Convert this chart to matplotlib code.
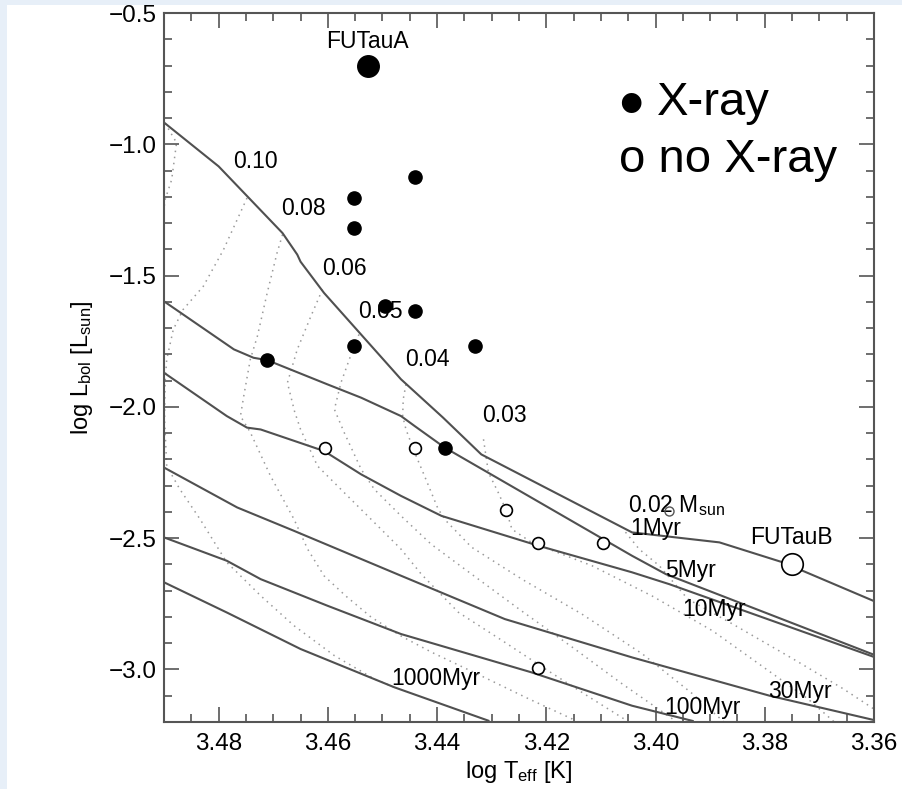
import matplotlib
matplotlib.use("Agg")
import matplotlib.pyplot as plt
from matplotlib.patches import Rectangle

plt.rcParams["font.family"] = ["Liberation Sans", "DejaVu Sans"]
plt.rcParams["mathtext.fontset"] = "custom"
plt.rcParams["mathtext.rm"] = "Liberation Sans"
plt.rcParams["mathtext.it"] = "Liberation Sans"

# ── Isochrones (solid) ─────────────────────────────────────
iso_1myr_x = [3.490, 3.4800, 3.4683, 3.4656, 3.4650, 3.4607, 3.4466, 3.4389, 3.4319, 3.4043, 3.3883, 3.3767, 3.3595]
iso_1myr_y = [-0.917, -1.084, -1.338, -1.420, -1.447, -1.566, -1.895, -2.041, -2.181, -2.478, -2.516, -2.592, -2.744]
iso_5myr_x = [3.490, 3.4772, 3.4736, 3.4711, 3.4601, 3.4539, 3.4466, 3.4441, 3.4386, 3.4043, 3.3981, 3.3595]
iso_5myr_y = [-1.598, -1.781, -1.813, -1.822, -1.914, -1.965, -2.035, -2.073, -2.155, -2.567, -2.637, -2.948]
iso_10myr_x = [3.490, 3.4785, 3.4748, 3.4723, 3.4607, 3.4539, 3.4466, 3.4392, 3.4214, 3.4043, 3.3975, 3.3595]
iso_10myr_y = [-1.870, -2.035, -2.079, -2.086, -2.168, -2.257, -2.339, -2.415, -2.529, -2.630, -2.675, -2.956]
iso_30myr_x = [3.490, 3.4766, 3.4662, 3.4466, 3.4276, 3.4043, 3.3791, 3.3595]
iso_30myr_y = [-2.231, -2.383, -2.472, -2.643, -2.808, -2.954, -3.100, -3.195]
iso_100myr_x = [3.490, 3.4785, 3.4723, 3.4601, 3.4466, 3.4227, 3.4043, 3.3932]
iso_100myr_y = [-2.497, -2.586, -2.656, -2.757, -2.865, -3.011, -3.138, -3.196]
iso_1000myr_x = [3.490, 3.4785, 3.4650, 3.4478, 3.4306]
iso_1000myr_y = [-2.668, -2.783, -2.922, -3.068, -3.195]

# ── Mass tracks (dotted) ───────────────────────────────────
trk_top_x = [3.4898, 3.4877, 3.4886, 3.4898, 3.4907]
trk_top_y = [-0.920, -0.994, -1.135, -1.211, -1.363]
trk_010_x = [3.4748, 3.4791, 3.4828, 3.4865, 3.4883, 3.4895, 3.4898, 3.4899, 3.4895, 3.4871,
             3.4834, 3.4785, 3.4760, 3.4723, 3.4662, 3.4588, 3.4515, 3.4480]
trk_010_y = [-1.2045, -1.4011, -1.5406, -1.6292, -1.7053, -1.8193, -1.9067, -2.0474, -2.2250, -2.3135,
             -2.4275, -2.5922, -2.6431, -2.7191, -2.8332, -2.9473, -3.0359, -3.0663]
trk_008_x = [3.4683, 3.4693, 3.4711, 3.4729, 3.4742, 3.4754, 3.4760, 3.4742, 3.4705, 3.4662,
             3.4637, 3.4607, 3.4567, 3.4521, 3.4466, 3.4411, 3.4319, 3.4232, 3.4153, 3.4135]
trk_008_y = [-1.3440, -1.4136, -1.5657, -1.7307, -1.8193, -1.9589, -2.0349, -2.0968, -2.2630, -2.4276,
             -2.5417, -2.6432, -2.7204, -2.8002, -2.8725, -2.9333, -3.0245, -3.1120, -3.1880, -3.226]
trk_006_x = [3.4610, 3.4631, 3.4656, 3.4674, 3.4661, 3.4650, 3.4619, 3.4564, 3.4515, 3.4466,
             3.4429, 3.4361, 3.4276, 3.4202, 3.4116, 3.4052, 3.4024]
trk_006_y = [-1.5532, -1.6547, -1.7813, -1.9079, -2.0170, -2.0854, -2.2249, -2.3390, -2.4401, -2.5417,
             -2.6367, -2.7823, -2.8964, -2.9979, -3.1120, -3.1956, -3.234]
trk_005_x = [3.4543, 3.4552, 3.4576, 3.4588, 3.4570, 3.4539, 3.4515, 3.4466, 3.4411, 3.4337,
             3.4245, 3.4153, 3.4061, 3.3969, 3.3951]
trk_005_y = [-1.7242, -1.7687, -1.9079, -2.0094, -2.0980, -2.2375, -2.3136, -2.4151, -2.5227, -2.6367,
             -2.7774, -2.9143, -3.0549, -3.1880, -3.226]
trk_004_x = [3.4457, 3.4462, 3.4463, 3.4457, 3.4441, 3.4423, 3.4398, 3.4383, 3.4337, 3.4245,
             3.4135, 3.4024, 3.3932, 3.3877, 3.3859]
trk_004_y = [-1.9143, -1.9713, -2.0349, -2.0854, -2.1740, -2.2630, -2.3896, -2.4352, -2.5341, -2.6557,
             -2.7888, -2.9409, -3.0930, -3.1956, -3.234]
trk_003_x = [3.4315, 3.4306, 3.4288, 3.4273, 3.4263, 3.4227, 3.4116, 3.4006, 3.3895, 3.3803,
             3.3721, 3.3675, 3.3656]
trk_003_y = [-2.1235, -2.2501, -2.3262, -2.3961, -2.4657, -2.5162, -2.6052, -2.7204, -2.8535, -2.9903,
             -3.1120, -3.1956, -3.234]
trk_002_x = [3.4055, 3.4030, 3.3993, 3.3941, 3.3859, 3.3748, 3.3656, 3.3595, 3.3580]
trk_002_y = [-2.4770, -2.5417, -2.6052, -2.7317, -2.8268, -2.9599, -3.0740, -3.1576, -3.170]

# ── Objects ────────────────────────────────────────────────
xray_teff = [3.4441, 3.4552, 3.4552, 3.4495, 3.4441, 3.4552, 3.4711, 3.4331, 3.4386]
xray_lbol = [-1.125, -1.205, -1.319, -1.617, -1.636, -1.769, -1.822, -1.769, -2.155]
noxray_teff = [3.4606, 3.4441, 3.4273, 3.4216, 3.4097, 3.4216]
noxray_lbol = [-2.155, -2.155, -2.394, -2.520, -2.520, -2.996]
faint_teff = [3.3976]
faint_lbol = [-2.396]
futaua_teff, futaua_lbol = 3.4527, -0.700
futaub_teff, futaub_lbol = 3.3751, -2.599

mass_labels = ["0.10", "0.08", "0.06", "0.05", "0.04", "0.03"]
mass_label_x = [3.4733, 3.4644, 3.4570, 3.4503, 3.4417, 3.4276]
mass_label_y = [-1.0665, -1.2426, -1.4745, -1.6357, -1.8193, -2.0322]
age_labels = ["1Myr", "5Myr", "10Myr", "30Myr", "100Myr", "1000Myr"]
age_label_x = [3.4046, 3.3982, 3.3951, 3.3794, 3.3984, 3.4484]
age_label_y = [-2.4650, -2.6242, -2.7698, -3.0842, -3.1437, -3.0359]

LINE = "#505050"
DOT = "#9a9a9a"

fig = plt.figure(figsize=(9.02, 7.89), dpi=100)
fig.patch.set_facecolor("white")
fig.patches.append(Rectangle((0, 0), 7 / 902, 1, transform=fig.transFigure,
                             facecolor="#e7eff8", edgecolor="none", zorder=0))
fig.patches.append(Rectangle((0, 1 - 5 / 789), 1, 5 / 789, transform=fig.transFigure,
                             facecolor="#e7eff8", edgecolor="none", zorder=0))

ax = fig.add_axes([164 / 902, 67 / 789, 710 / 902, 709 / 789])

tracks = [(trk_top_x, trk_top_y), (trk_010_x, trk_010_y), (trk_008_x, trk_008_y),
          (trk_006_x, trk_006_y), (trk_005_x, trk_005_y), (trk_004_x, trk_004_y),
          (trk_003_x, trk_003_y), (trk_002_x, trk_002_y)]
for tx, ty in tracks:
    ax.plot(tx, ty, color=DOT, lw=1.1, ls=(0, (1, 3)), zorder=1)

isochrones = [(iso_1myr_x, iso_1myr_y), (iso_5myr_x, iso_5myr_y), (iso_10myr_x, iso_10myr_y),
              (iso_30myr_x, iso_30myr_y), (iso_100myr_x, iso_100myr_y),
              (iso_1000myr_x, iso_1000myr_y)]
for ix, iy in isochrones:
    ax.plot(ix, iy, color=LINE, lw=1.5, zorder=2)

ax.plot(xray_teff, xray_lbol, "o", color="black", ms=9.5, zorder=4)
ax.plot(noxray_teff, noxray_lbol, "o", mfc="white", mec="black", mew=1.2, ms=8.5, zorder=4)
ax.plot(faint_teff, faint_lbol, "o", mfc="none", mec="#555555", mew=1.0, ms=6.5, zorder=4)
ax.plot([futaua_teff], [futaua_lbol], "o", color="black", ms=15.5, zorder=4)
ax.plot([futaub_teff], [futaub_lbol], "o", mfc="white", mec="black", mew=1.2, ms=15.5, zorder=4)

FS = 16.5
ax.text(futaua_teff, -0.610, "FUTauA", fontsize=FS, ha="center", va="center", zorder=5)
ax.text(futaub_teff, -2.497, "FUTauB", fontsize=FS, ha="center", va="center", zorder=5)
for lab, lx, ly in zip(mass_labels, mass_label_x, mass_label_y):
    ax.text(lx, ly, lab, fontsize=FS, ha="center", va="center", zorder=3)
ax.text(3.4050, -2.3760, r"0.02 M$_{\rm sun}$", fontsize=FS, ha="left", va="center", zorder=3)
for lab, lx, ly in zip(age_labels, age_label_x, age_label_y):
    ax.text(lx, ly, lab, fontsize=FS, ha="left", va="center", zorder=3)

# legend written as plain text, as in the original
ax.text(3.4046, -0.9330, "\u2022", fontsize=52, ha="center", va="baseline")
ax.text(3.3997, -0.8878, "X-ray", fontsize=34, ha="left", va="baseline")
ax.text(3.4067, -1.1045, "o no X-ray", fontsize=34, ha="left", va="baseline")

ax.set_xlim(3.49, 3.36)
ax.set_ylim(-3.2, -0.5)
ax.set_xticks([3.48, 3.46, 3.44, 3.42, 3.40, 3.38, 3.36])
ax.set_xticklabels(["3.48", "3.46", "3.44", "3.42", "3.40", "3.38", "3.36"])
ax.set_yticks([-3.0, -2.5, -2.0, -1.5, -1.0, -0.5])
ax.set_yticklabels(["\u22123.0", "\u22122.5", "\u22122.0", "\u22121.5", "\u22121.0", "\u22120.5"])
ax.set_xticks([3.36 + 0.005 * i for i in range(27)], minor=True)
ax.set_yticks([-3.2 + 0.1 * i for i in range(28)], minor=True)
ax.tick_params(which="both", direction="in", top=True, right=True, color="#555555",
               labelsize=17.5, width=1.2)
ax.tick_params(which="major", length=11)
ax.tick_params(axis="x", which="major", pad=8)
ax.tick_params(axis="y", which="major", pad=5)
ax.tick_params(which="minor", length=5.5)
for sp in ax.spines.values():
    sp.set_color("#555555")
    sp.set_linewidth(1.5)

ax.set_xlabel(r"log T$_{\rm eff}$ [K]", fontsize=17, labelpad=3)
ax.set_ylabel(r"log L$_{\rm bol}$ [L$_{\rm sun}$]", fontsize=17, labelpad=10)

fig.savefig("out.png", dpi=100)
